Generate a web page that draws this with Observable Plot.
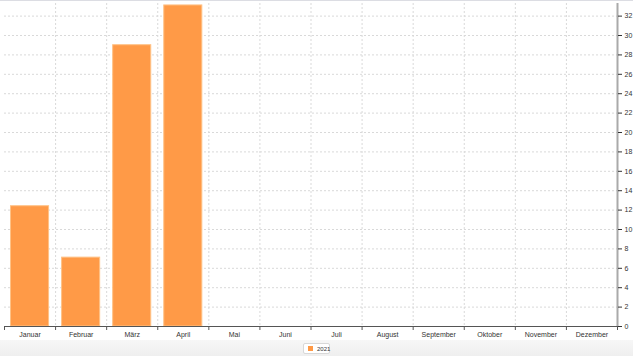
<!DOCTYPE html>
<html>
<head>
<meta charset="utf-8">
<script src="https://cdn.jsdelivr.net/npm/d3@7"></script>
<script src="https://cdn.jsdelivr.net/npm/@observablehq/plot@0.6"></script>
<style>
  html, body { margin: 0; padding: 0; background: #fff; }
  #wrap { position: relative; width: 633px; height: 356px; overflow: hidden; font-family: "Liberation Sans", Arial, sans-serif; }
  #topline { position: absolute; left: 0; top: 0; width: 633px; height: 1px; background: #dcdde3; }
  #chart { position: absolute; left: 0; top: 0; }
  #foot { position: absolute; left: 0; top: 340px; width: 633px; height: 16px; background: linear-gradient(#f7f7f7, #efefef); }
  #legend { position: absolute; left: 303px; top: 3px; width: 27px; height: 11px; background: #fff; border: 1px solid #d8d8d8; border-radius: 2px; box-sizing: border-box; font-size: 6px; line-height: 6px; color: #333; display: flex; align-items: center; gap: 4px; padding-left: 4px; }
  #legend .sw { width: 5px; height: 5px; background: #ff9a47; flex: none; }
</style>
</head>
<body>
<div id="wrap">
  <div id="chart"></div>
  <div id="topline"></div>
  <div id="foot"><div id="legend"></div></div>
</div>
<script>
const months = ["Januar","Februar","März","April","Mai","Juni","Juli","August","September","Oktober","November","Dezember"];
const series = "2021";
const values = [12.4, 7.1, 29.0, 33.1, null, null, null, null, null, null, null, null];
const yTicks = d3.range(0, 33, 2);

const data = months.map((m, i) => ({month: m, i, value: values[i]})).filter(d => d.value != null);

const barColor = "#ff9a47";

const chart = Plot.plot({
  width: 633,
  height: 340,
  marginLeft: 4,
  marginRight: 16,
  marginTop: 3,
  marginBottom: 14,
  style: {background: "transparent", fontFamily: "Liberation Sans, Arial, sans-serif", color: "#333"},
  x: {domain: [0, months.length], axis: null},
  y: {domain: [0, 33.3], axis: null},
  marks: [
    Plot.gridX(d3.range(1, months.length), {stroke: "#d9d9d9", strokeOpacity: 1, strokeDasharray: "2,2"}),
    Plot.gridY(yTicks.filter(t => t > 0), {stroke: "#d9d9d9", strokeOpacity: 1, strokeDasharray: "2,2"}),
    Plot.rectY(data, {x1: "i", x2: d => d.i + 1, y: "value", fill: barColor, stroke: "#ffc286", strokeWidth: 1, insetLeft: 6.5, insetRight: 6.5}),
    Plot.ruleY([0], {stroke: "#555", strokeWidth: 1}),
    Plot.axisX({ticks: d3.range(0, months.length + 1), tickSize: 4, tickFormat: () => "", color: "#555", label: null}),
    Plot.axisX({ticks: d3.range(months.length).map(i => i + 0.5), tickSize: 0, tickPadding: 6, tickFormat: d => months[Math.floor(d)], fontSize: 7, color: "#333", label: null}),
    Plot.ruleX([months.length], {stroke: "#aaa", strokeWidth: 2}),
    Plot.axisY({anchor: "right", ticks: yTicks, tickSize: 4, tickPadding: 3, fontSize: 7, color: "#333", label: null})
  ]
});
document.getElementById("chart").appendChild(chart);

const lg = document.getElementById("legend");
lg.innerHTML = `<span class="sw"></span><span>${series}</span>`;
</script>
</body>
</html>
